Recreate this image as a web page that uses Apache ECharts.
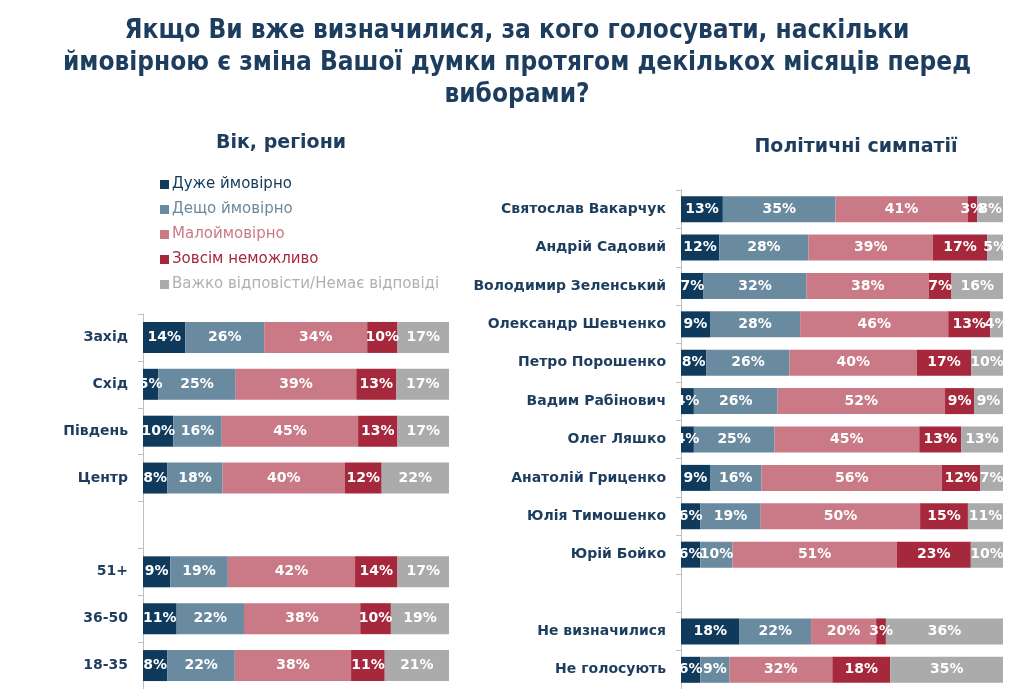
<!DOCTYPE html>
<html>
<head>
<meta charset="utf-8">
<script src="https://cdn.jsdelivr.net/npm/echarts@6/dist/echarts.min.js"></script>
<style>html,body{margin:0;padding:0;background:#fff;}#c{width:1024px;height:689px;}</style>
</head>
<body>
<div id="c"></div>
<script>
// ---- data ----
const seriesNames = ['Дуже ймовірно', 'Дещо ймовірно', 'Малоймовірно', 'Зовсім неможливо', 'Важко відповісти/Немає відповіді'];
const colors = ['#0f3a5c', '#6a8aa0', '#c97a86', '#a6283d', '#ababab'];
const legendTextColors = ['#0f3a5c', '#6a8aa0', '#c97a86', '#a6283d', '#b0b0b0'];

const leftCategories = ['Захід', 'Схід', 'Південь', 'Центр', '', '51+', '36-50', '18-35'];
const leftVery     = [14, 5, 10, 8, null, 9, 11, 8];
const leftSomewhat = [26, 25, 16, 18, null, 19, 22, 22];
const leftUnlikely = [34, 39, 45, 40, null, 42, 38, 38];
const leftNever    = [10, 13, 13, 12, null, 14, 10, 11];
const leftDK       = [17, 17, 17, 22, null, 17, 19, 21];

const rightCategories = ['Святослав Вакарчук', 'Андрій Садовий', 'Володимир Зеленський', 'Олександр Шевченко',
  'Петро Порошенко', 'Вадим Рабінович', 'Олег Ляшко', 'Анатолій Гриценко', 'Юлія Тимошенко', 'Юрій Бойко', '',
  'Не визначилися', 'Не голосують'];
const rightVery     = [13, 12, 7, 9, 8, 4, 4, 9, 6, 6, null, 18, 6];
const rightSomewhat = [35, 28, 32, 28, 26, 26, 25, 16, 19, 10, null, 22, 9];
const rightUnlikely = [41, 39, 38, 46, 40, 52, 45, 56, 50, 51, null, 20, 32];
const rightNever    = [3, 17, 7, 13, 17, 9, 13, 12, 15, 23, null, 3, 18];
const rightDK       = [8, 5, 16, 4, 10, 9, 13, 7, 11, 10, null, 36, 35];

const titleText = 'Якщо Ви вже визначилися, за кого голосувати, наскільки\nймовірною є зміна Вашої думки протягом декількох місяців перед\nвиборами?';

// ---- build ----
const leftSets = [leftVery, leftSomewhat, leftUnlikely, leftNever, leftDK];
const rightSets = [rightVery, rightSomewhat, rightUnlikely, rightNever, rightDK];

function normalized(sets, idx) {
  return sets[idx].map((v, i) => {
    if (v == null) return null;
    let s = 0;
    sets.forEach(a => { s += a[i]; });
    return { value: v / s * 100, raw: v };
  });
}

const labelFont = 'DejaVu Sans';
const navy = '#1d3d5f';

const series = [];
[leftSets, rightSets].forEach((sets, g) => {
  sets.forEach((arr, k) => {
    series.push({
      name: seriesNames[k],
      type: 'bar',
      stack: 'g' + g,
      xAxisIndex: g,
      yAxisIndex: g,
      barWidth: g === 0 ? 31 : 26,
      itemStyle: { color: colors[k] },
      label: {
        show: true,
        position: 'inside',
        color: '#fff',
        fontFamily: labelFont,
        fontWeight: 'bold',
        fontSize: 14,
        formatter: p => p.data && p.data.raw != null ? p.data.raw + '%' : ''
      },
      data: normalized(sets, k)
    });
  });
});

const yAxisCommon = {
  type: 'category',
  inverse: true,
  axisLine: { show: true, lineStyle: { color: '#bfbfbf', width: 1 } },
  axisTick: { show: true, length: 5, lineStyle: { color: '#bfbfbf' } },
  axisLabel: { color: navy, fontFamily: labelFont, fontWeight: 'bold', fontSize: 14, margin: 15 },
  splitLine: { show: false }
};
const xAxisCommon = { type: 'value', min: 0, max: 100, show: false };

const chart = echarts.init(document.getElementById('c'), null, { renderer: 'canvas' });
chart.setOption({
  backgroundColor: '#ffffff',
  animation: false,
  title: [
    { text: titleText, left: 512, top: 10, textAlign: 'center',
      textStyle: { color: navy, fontFamily: 'DejaVu Sans Condensed, Liberation Sans Narrow, DejaVu Sans', fontWeight: 'bold', fontSize: 26, lineHeight: 32 } },
    { text: 'Вік, регіони', left: 276, top: 129, textAlign: 'center',
      textStyle: { color: navy, fontFamily: labelFont, fontWeight: 'bold', fontSize: 19 } },
    { text: 'Політичні симпатії', left: 851, top: 133, textAlign: 'center',
      textStyle: { color: navy, fontFamily: labelFont, fontWeight: 'bold', fontSize: 19 } }
  ],
  legend: {
    orient: 'vertical',
    left: 155, top: 172,
    itemWidth: 9, itemHeight: 9, itemGap: 10,
    icon: 'rect',
    selectedMode: false,
    data: seriesNames.map((n, i) => ({ name: n, textStyle: { color: legendTextColors[i] } })),
    textStyle: { fontFamily: labelFont, fontSize: 15, padding: [0, 0, 0, -2] }
  },
  grid: [
    { left: 143, width: 306, top: 314, height: 376 },
    { left: 681, width: 322, top: 190, height: 500 }
  ],
  xAxis: [Object.assign({ gridIndex: 0 }, xAxisCommon), Object.assign({ gridIndex: 1 }, xAxisCommon)],
  yAxis: [
    Object.assign({ gridIndex: 0, data: leftCategories }, yAxisCommon),
    Object.assign({ gridIndex: 1, data: rightCategories }, yAxisCommon)
  ],
  series: series
});
</script>
</body>
</html>
